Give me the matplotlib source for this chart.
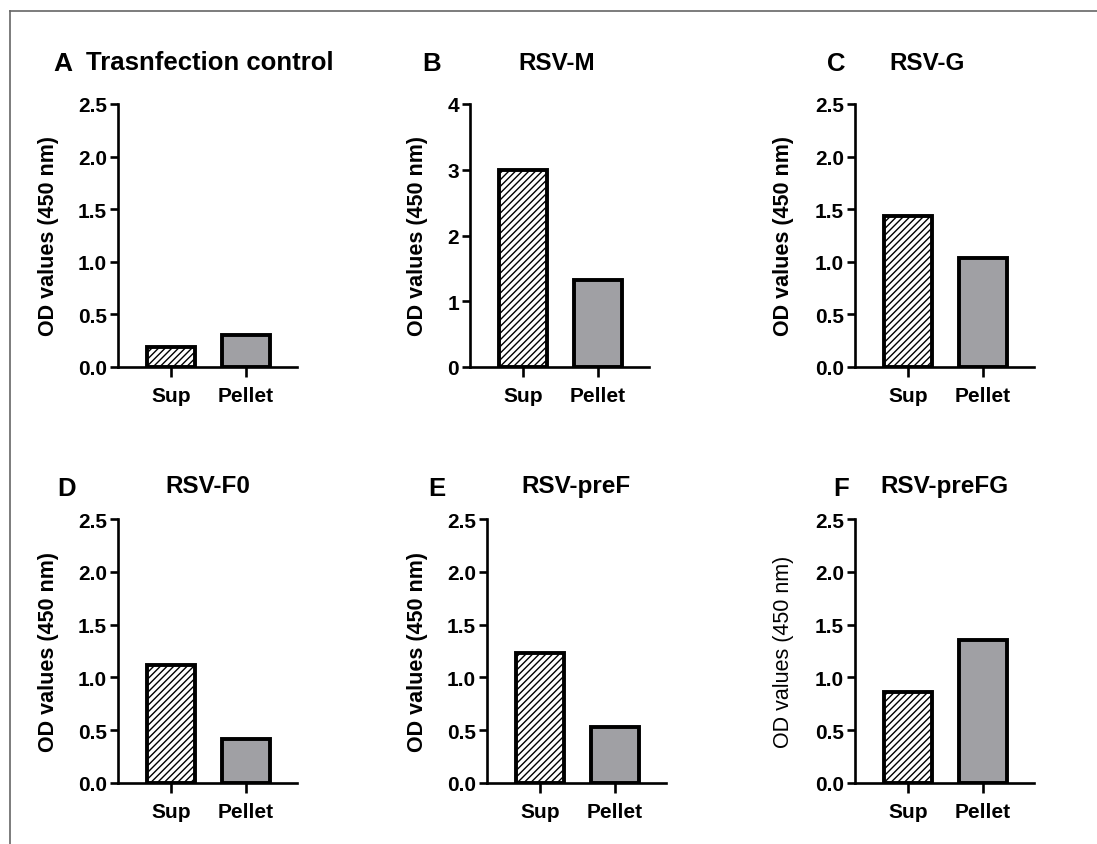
import matplotlib
matplotlib.use("Agg")
import matplotlib.pyplot as plt
from matplotlib import font_manager
from matplotlib.lines import Line2D

# Data
panel_letters = ["A", "B", "C", "D", "E", "F"]
panel_titles = ["Trasnfection control", "RSV-M", "RSV-G", "RSV-F0", "RSV-preF", "RSV-preFG"]
categories = ["Sup", "Pellet"]
sup_values = [0.19, 3.00, 1.44, 1.12, 1.23, 0.86]
pellet_values = [0.30, 1.32, 1.04, 0.42, 0.53, 1.35]
y_max = [2.5, 4, 2.5, 2.5, 2.5, 2.5]
y_step = [0.5, 1, 0.5, 0.5, 0.5, 0.5]
y_label = "OD values (450 nm)"

W, H = 1097, 845

# Arial-like font
names = {f.name for f in font_manager.fontManager.ttflist}
main_font = "Liberation Sans" if "Liberation Sans" in names else "DejaVu Sans"
plt.rcParams["font.family"] = main_font
plt.rcParams["hatch.linewidth"] = 1.0

fig = plt.figure(figsize=(W / 100, H / 100), dpi=100)

# axes boxes in pixels: (left x of y-axis, y of zero line, y of top)
ax_left = [118, 470, 855, 118, 487, 855]
ax_zero = [368, 368, 368, 784, 784, 784]
ax_top = [105, 105, 105, 520, 520, 520]
ax_width = 179
label_x = [-0.33, -0.235, -0.34, -0.33, -0.33, -0.34]

for i in range(6):
    x0 = ax_left[i] / W
    y0 = (H - ax_zero[i]) / H
    h = (ax_zero[i] - ax_top[i]) / H
    ax = fig.add_axes([x0, y0, ax_width / W, h])

    ax.bar(0, sup_values[i], width=0.65, color="white", edgecolor="black",
           linewidth=2.8, hatch="/////", zorder=2)
    ax.bar(1, pellet_values[i], width=0.65, color="#a0a0a4", edgecolor="black",
           linewidth=2.8, zorder=2)

    ax.set_xlim(-0.707, 1.68)
    ax.set_ylim(0, y_max[i])
    ticks = [k * y_step[i] for k in range(int(round(y_max[i] / y_step[i])) + 1)]
    ax.set_yticks(ticks)
    if y_step[i] < 1:
        ax.set_yticklabels([f"{t:.1f}" for t in ticks])
    else:
        ax.set_yticklabels([f"{int(t)}" for t in ticks])
    ax.set_xticks([0, 1])
    ax.set_xticklabels(categories)

    for side in ["top", "right"]:
        ax.spines[side].set_visible(False)
    for side in ["left", "bottom"]:
        ax.spines[side].set_linewidth(1.9)
    ax.tick_params(axis="both", width=1.9, length=6, labelsize=15, pad=2)
    ax.tick_params(axis="x", length=7, pad=7)
    for lab in ax.get_xticklabels() + ax.get_yticklabels():
        lab.set_fontweight("bold")

    weight = "normal" if i == 5 else "bold"
    ax.set_ylabel(y_label, fontsize=15.5, fontweight=weight)
    ax.yaxis.set_label_coords(label_x[i], 0.5)

# Panel titles (pixel positions)
fig.text(53 / W, 1 - 64 / H, "A", fontsize=19, fontweight="bold", va="center", ha="left")
fig.text(86 / W, 1 - 63 / H, panel_titles[0], fontsize=18.5, fontweight="bold", va="center", ha="left")

letter_pos = [None, (422, 64), (827, 64), (57, 489), (428, 489), (833, 489)]
title_pos = [None, (557, 63), (927, 63), (208, 487), (576, 487), (944, 487)]
for i in range(1, 6):
    lx, ly = letter_pos[i]
    fig.text(lx / W, 1 - ly / H, panel_letters[i], fontsize=18.5, fontweight="bold",
             va="center", ha="left")
    tx, ty = title_pos[i]
    fig.text(tx / W, 1 - ty / H, panel_titles[i], fontsize=17.5, fontweight="bold",
             va="center", ha="center")

# Frame lines at top and left edge
fig.add_artist(Line2D([10 / W, 10 / W], [0, 1 - 12 / H], color="#666666", lw=1.2))
fig.add_artist(Line2D([10 / W, 1], [1 - 12 / H, 1 - 12 / H], color="#666666", lw=1.2))

fig.savefig("out.png", dpi=100)
